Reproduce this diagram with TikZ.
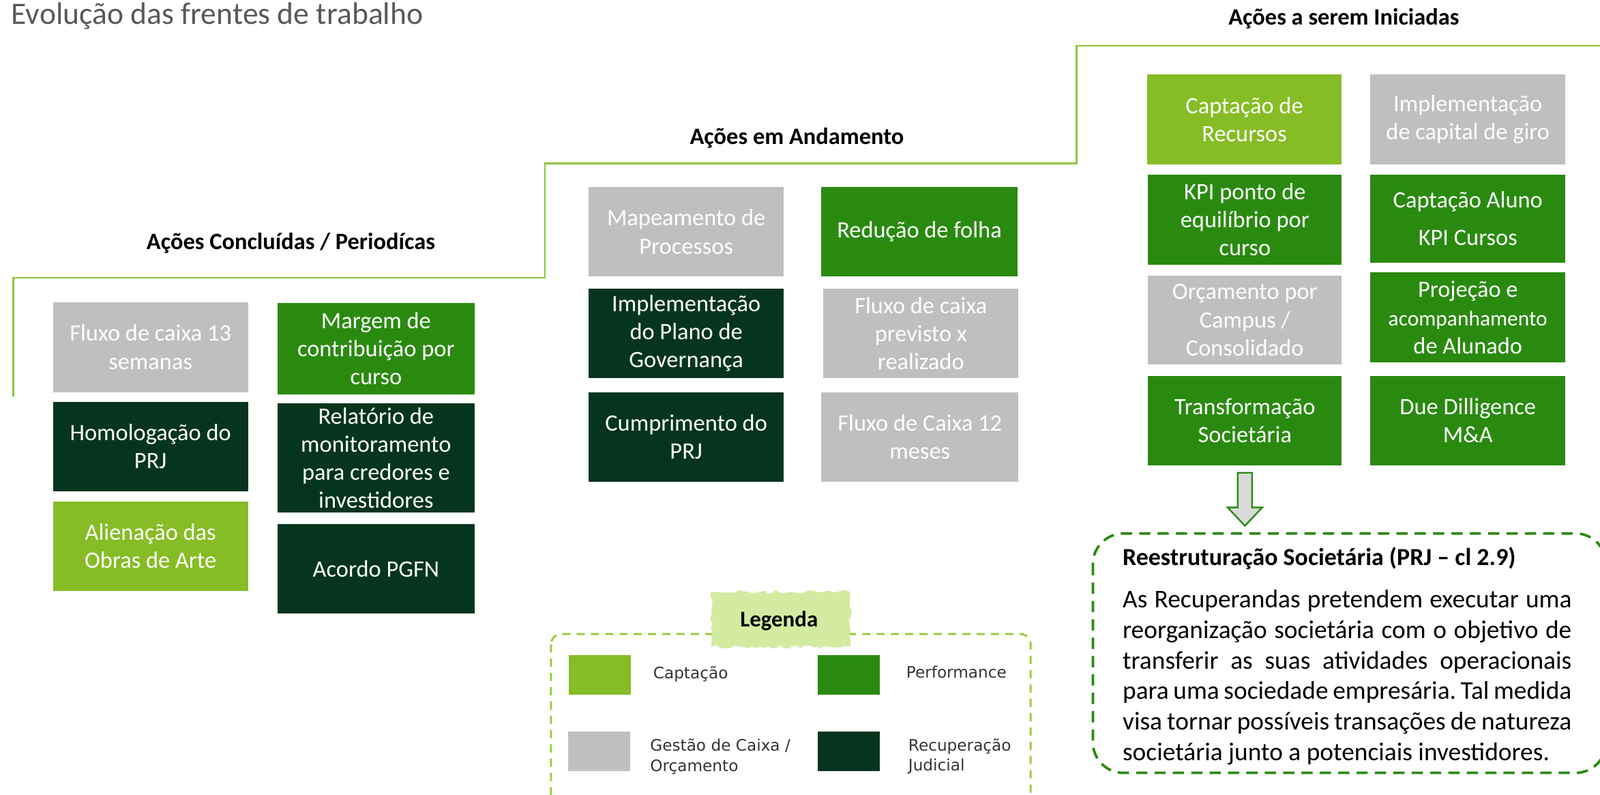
\documentclass[tikz,border=0pt]{standalone}
\usepackage{fontspec}
\setmainfont{Carlito}
\newfontfamily\dejavu{DejaVu Sans}
\usetikzlibrary{decorations.pathmorphing}
\definecolor{lgreen}{HTML}{86BC25}
\definecolor{mgreen}{HTML}{2A8A10}
\definecolor{dgreen}{HTML}{05351E}
\definecolor{gbox}{HTML}{BFBFBF}
\definecolor{stepline}{HTML}{8DC63F}
\definecolor{legline}{HTML}{9BCB3C}
\definecolor{legpatch}{HTML}{D3EBA0}
\definecolor{titlegray}{HTML}{595959}
\definecolor{arrowfill}{HTML}{D9D9D9}
\frenchspacing
\begin{document}
\begin{tikzpicture}[x=1pt,y=-1pt,
  box/.style={rectangle, inner sep=0pt, align=center, text=white,
    minimum width=191pt, minimum height=88pt, font=\fontsize{23}{27.5}\selectfont},
  hdr/.style={font=\fontsize{23}{27}\selectfont\bfseries, text=black},
  legtxt/.style={align=left, text=black!80, inner sep=0pt, font=\dejavu\fontsize{15.5}{19.5}\selectfont},
  swatch/.style={rectangle, inner sep=0pt, minimum width=61pt, minimum height=39pt},
  bodytxt/.style={font=\fontsize{25}{30}\selectfont, align=left, text=black}
]
\useasboundingbox (0,0) rectangle (1568,778);
\clip (0,0) rectangle (1568,778);

% title
\node[anchor=base west, inner sep=0pt, text=titlegray, font=\fontsize{30.5}{36}\selectfont] (title) at (11,24) {Evolução das frentes de trabalho};

% step line
\draw[stepline, line width=1.5pt] (13,388) -- (13,272) -- (534,272) -- (534,160) -- (1055,160) -- (1055,45) -- (1570,45);

% headers
\node[hdr] (h1) at (285,238) {Ações Concluídas / Periodícas};
\node[hdr] (h2) at (781,135) {Ações em Andamento};
\node[hdr] (h3) at (1317,18) {Ações a serem Iniciadas};

% column 1
\node[box, fill=gbox] (f13) at (147.5,340) {Fluxo de caixa 13\\semanas};
\node[box, fill=dgreen, minimum height=87pt] (homol) at (147.5,437.5) {Homologação do\\PRJ};
\node[box, fill=lgreen] (alien) at (147.5,535) {Alienação das\\Obras de Arte};
\node[box, fill=mgreen, minimum width=193pt, minimum height=89pt] (margem) at (368.5,341.5) {Margem de\\contribuição por\\curso};
\node[box, fill=dgreen, minimum width=193pt, minimum height=107pt] (relat) at (368.5,448.5) {Relatório de\\monitoramento\\para credores e\\investidores};
\node[box, fill=dgreen, minimum width=193pt] (acordo) at (368.5,557) {Acordo PGFN};

% column 2
\node[box, fill=gbox] (mapeam) at (672.5,227) {Mapeamento de\\Processos};
\node[box, fill=dgreen, minimum height=87pt] (implem) at (672.5,326.5) {Implementação\\do Plano de\\Governança};
\node[box, fill=dgreen] (cumpr) at (672.5,428) {Cumprimento do\\PRJ};
\node[box, fill=mgreen, minimum width=192pt] (reducao) at (901,227) {Redução de folha};
\node[box, fill=gbox, minimum height=87pt] (fluxoprev) at (902.5,326.5) {Fluxo de caixa\\previsto x\\realizado};
\node[box, fill=gbox, minimum width=193pt] (fluxo12) at (901.5,428) {Fluxo de Caixa 12\\meses};

% column 3
\node[box, fill=lgreen] (captrec) at (1219.5,117) {Captação de\\Recursos};
\node[box, fill=mgreen, minimum width=190pt] (kpiponto) at (1220,215) {KPI ponto de\\equilíbrio por\\curso};
\node[box, fill=gbox, minimum width=190pt, minimum height=87pt] (orcam) at (1220,313.5) {Orçamento por\\Campus /\\Consolidado};
\node[box, fill=mgreen, minimum width=190pt] (transf) at (1220,412) {Transformação\\Societária};
\node[box, fill=gbox] (implcap) at (1438.5,117) {Implementação\\de capital de giro};
\node[box, fill=mgreen, minimum height=86pt] (captaluno) at (1438.5,214) {Captação Aluno\\[9.5pt]KPI Cursos};
\node[box, fill=mgreen] (projecao) at (1438.5,311) {Projeção e\\{\fontsize{21}{27}\selectfont acompanhamento}\\de Alunado};
\node[box, fill=mgreen] (due) at (1438.5,412) {Due Dilligence\\M\&A};

% block arrow
\draw[mgreen, fill=arrowfill, line width=1.6pt, line join=miter]
  (1213,463) -- (1227,463) -- (1227,497) -- (1237,497) -- (1220,515) -- (1203,497) -- (1213,497) -- cycle;

% dashed box
\draw[mgreen, line width=2.5pt, dash pattern=on 11pt off 7pt, rounded corners=30pt] (1071,522.5) rectangle (1574,757);
\node[anchor=base west, inner sep=0pt, font=\fontsize{24}{28}\selectfont\bfseries] (rtitle) at (1100,553.5) {Reestruturação Societária (PRJ – cl 2.9)};
\node[bodytxt, anchor=base west, inner sep=0pt] (rbody) at (1100,745) {%
\makebox[440pt][s]{As Recuperandas pretendem executar uma}\\
\makebox[440pt][s]{reorganização societária com o objetivo de}\\
\makebox[440pt][s]{transferir as suas atividades operacionais}\\
\makebox[440pt][s]{para uma sociedade empresária. Tal medida}\\
\makebox[440pt][s]{visa tornar possíveis transações de natureza}\\
societária junto a potenciais investidores.};

% legend
\draw[legline, line width=2pt, dash pattern=on 8pt off 6pt, rounded corners=10pt] (540,621) rectangle (1010,795);
\node[fill=legpatch, minimum width=136pt, minimum height=54pt, decorate,
  decoration={random steps, segment length=4pt, amplitude=1.8pt}] (legpatch) at (765,606.5) {};
\node[font=\fontsize{22}{26}\selectfont\bfseries, inner sep=0pt, anchor=base] (legtitle) at (763.5,614) {Legenda};
\node[swatch, fill=lgreen] (sw1) at (588,661) {};
\node[swatch, fill=mgreen] (sw2) at (832,661) {};
\node[swatch, fill=gbox] (sw3) at (587,736) {};
\node[swatch, fill=dgreen] (sw4) at (832,736) {};
\node[legtxt, anchor=base west] (l1) at (640,665) {Captação};
\node[legtxt, anchor=base west] (l2) at (888,664) {Performance};
\node[legtxt, anchor=west] (l3) at (637,741) {Gestão de Caixa /\\Orçamento};
\node[legtxt, anchor=west] (l4) at (890,741) {Recuperação\\Judicial};
\end{tikzpicture}
\end{document}
